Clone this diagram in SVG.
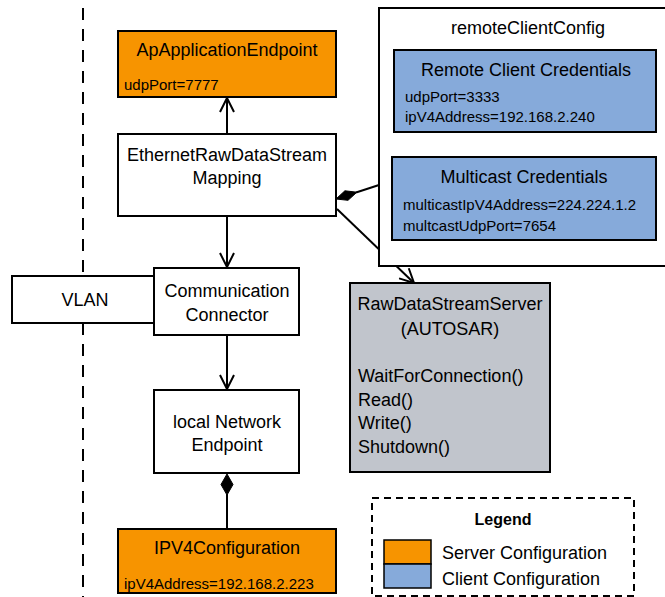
<svg xmlns="http://www.w3.org/2000/svg" width="665" height="597" viewBox="0 0 665 597">
<style>
text{font-family:"Liberation Sans",Arial,sans-serif;fill:#000}
.t{font-size:18px}
.s{font-size:15px}
.c{text-anchor:middle}
.box{stroke:#000;stroke-width:2}
.w{fill:#fff}
.o{fill:#F79400}
.b{fill:#86AADA}
.g{fill:#C1C5CC}
.ln{stroke:#000;stroke-width:2;fill:none}
.dia{fill:#000;stroke:#000;stroke-width:1}
</style>
<defs>
<marker id="open" viewBox="0 0 16 16" refX="15" refY="8" markerWidth="16" markerHeight="16" markerUnits="userSpaceOnUse" orient="auto">
<path d="M1,1 L15,8 L1,15" fill="none" stroke="#000" stroke-width="2"/>
</marker>
</defs>
<rect width="665" height="597" fill="#fff"/>
<line x1="83" y1="8" x2="83" y2="597" stroke="#000" stroke-width="2" stroke-dasharray="12 9"/>
<g id="connectors">
<line class="ln" x1="227" y1="134" x2="227" y2="98" marker-end="url(#open)"/>
<line class="ln" x1="227" y1="216" x2="227" y2="267" marker-end="url(#open)"/>
<line class="ln" x1="227" y1="335" x2="227" y2="389" marker-end="url(#open)"/>
<line class="ln" x1="227" y1="529" x2="227" y2="494"/>
<path class="dia" d="M227,474 L233,484.5 L227,495 L221,484.5 Z"/>
<line class="ln" x1="379" y1="185" x2="356" y2="192.5"/>
<path class="dia" d="M336,199 L348,200.3 L356.9,192.2 L344.9,190.8 Z"/>
<line class="ln" x1="337" y1="209" x2="414" y2="283" marker-end="url(#open)"/>
</g>
<g id="apApplicationEndpoint">
<rect class="box o" x="118" y="31" width="218" height="66"/>
<text class="t c" x="227" y="56">ApApplicationEndpoint</text>
<text class="s" x="124" y="90">udpPort=7777</text>
</g>
<g id="ethernetMapping">
<rect class="box w" x="118" y="134" width="218" height="82"/>
<text class="t c" x="227" y="161">EthernetRawDataStream</text>
<text class="t c" x="227" y="184">Mapping</text>
</g>
<g id="vlan">
<rect class="box w" x="12" y="276" width="142" height="47"/>
<text class="t c" x="85" y="306">VLAN</text>
</g>
<g id="communicationConnector">
<rect class="box w" x="154" y="268" width="145" height="67"/>
<text class="t c" x="227" y="297">Communication</text>
<text class="t c" x="227" y="321">Connector</text>
</g>
<g id="localNetworkEndpoint">
<rect class="box w" x="154" y="390" width="145" height="83"/>
<text class="t c" x="227" y="428">local Network</text>
<text class="t c" x="227" y="451">Endpoint</text>
</g>
<g id="ipv4Configuration">
<rect class="box o" x="118" y="529" width="218" height="64"/>
<text class="t c" x="227" y="554">IPV4Configuration</text>
<text class="s" x="124" y="589">ipV4Address=192.168.2.223</text>
</g>
<g id="remoteClientConfig">
<rect class="box w" x="379" y="8" width="300" height="258"/>
<text class="t c" x="528" y="34">remoteClientConfig</text>
<g id="remoteClientCredentials">
<rect class="box b" x="394" y="50" width="262" height="82"/>
<text class="t c" x="526" y="76">Remote Client Credentials</text>
<text class="s" x="405" y="102">udpPort=3333</text>
<text class="s" x="405" y="122">ipV4Address=192.168.2.240</text>
</g>
<g id="multicastCredentials">
<rect class="box b" x="392" y="157" width="264" height="83"/>
<text class="t c" x="524" y="183">Multicast Credentials</text>
<text class="s" x="403" y="210">multicastIpV4Address=224.224.1.2</text>
<text class="s" x="403" y="231">multcastUdpPort=7654</text>
</g>
</g>
<g id="rawDataStreamServer">
<rect class="box g" x="350" y="283" width="200" height="189"/>
<text class="t c" x="450" y="310">RawDataStreamServer</text>
<text class="t c" x="450" y="335">(AUTOSAR)</text>
<text class="t" x="358" y="382">WaitForConnection()</text>
<text class="t" x="358" y="406">Read()</text>
<text class="t" x="358" y="429">Write()</text>
<text class="t" x="358" y="453">Shutdown()</text>
</g>
<g id="legend">
<rect x="372" y="498" width="262" height="98" fill="#fff" stroke="#000" stroke-width="2" stroke-dasharray="7 5"/>
<text x="503" y="525" font-size="16" font-weight="bold" text-anchor="middle">Legend</text>
<rect class="o" x="384" y="540" width="47" height="24" stroke="#000" stroke-width="1.5"/>
<rect class="b" x="384" y="564" width="47" height="24" stroke="#000" stroke-width="1.5"/>
<text class="t" x="442" y="559">Server Configuration</text>
<text class="t" x="442" y="585">Client Configuration</text>
</g>
</svg>
